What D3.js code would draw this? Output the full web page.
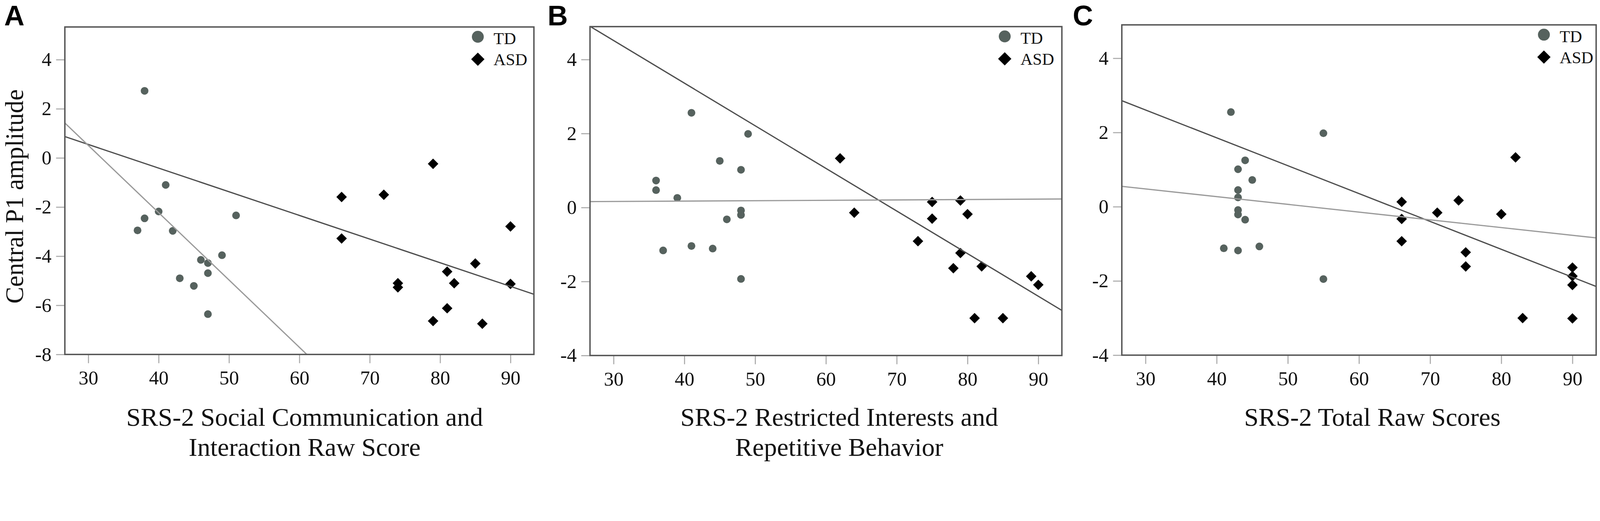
<!DOCTYPE html>
<html>
<head>
<meta charset="utf-8">
<script src="https://cdn.jsdelivr.net/npm/d3@7"></script>
<style>
  html, body { margin: 0; padding: 0; background: #fff; overflow: hidden; }
  svg { display: block; width: 100vw; height: 100vh; }
</style>
</head>
<body>
<div id="chart"></div>
<script>
// tick labels
const xTicks = [30, 40, 50, 60, 70, 80, 90];
const yTicksA = [-8, -6, -4, -2, 0, 2, 4];
const yTicksBC = [-4, -2, 0, 2, 4];

// panel A: SRS-2 social communication and interaction
const tdScoreA = [38, 41, 40, 38, 37, 42, 51, 49, 46, 47, 47, 43, 45, 47];
const tdAmpA = [2.73, -1.10, -2.18, -2.46, -2.95, -2.97, -2.34, -3.96, -4.15, -4.28, -4.69, -4.90, -5.21, -6.36];
const asdScoreA = [79, 66, 72, 66, 90, 74, 74, 85, 81, 82, 90, 81, 79, 86];
const asdAmpA = [-0.24, -1.59, -1.50, -3.28, -2.79, -5.10, -5.27, -4.30, -4.63, -5.10, -5.13, -6.12, -6.64, -6.75];

// panel B: SRS-2 restricted interests and repetitive behavior
const tdScoreB = [41, 49, 45, 48, 36, 36, 39, 48, 48, 46, 37, 41, 44, 48];
const tdAmpB = [2.56, 1.99, 1.26, 1.02, 0.73, 0.47, 0.26, -0.08, -0.20, -0.32, -1.16, -1.04, -1.11, -1.93];
const asdScoreB = [62, 64, 75, 79, 75, 80, 73, 79, 78, 82, 89, 90, 81, 85];
const asdAmpB = [1.33, -0.14, 0.15, 0.19, -0.30, -0.18, -0.91, -1.23, -1.64, -1.59, -1.86, -2.09, -2.99, -2.99];

// panel C: SRS-2 total raw scores
const tdScoreC = [42, 55, 44, 43, 45, 43, 43, 43, 43, 44, 41, 43, 46, 55];
const tdAmpC = [2.55, 1.98, 1.25, 1.01, 0.72, 0.45, 0.25, -0.09, -0.21, -0.35, -1.12, -1.18, -1.07, -1.95];
const asdScoreC = [82, 66, 74, 71, 80, 66, 66, 75, 75, 90, 90, 90, 83, 90];
const asdAmpC = [1.33, 0.13, 0.17, -0.16, -0.20, -0.33, -0.93, -1.23, -1.61, -1.64, -1.87, -2.11, -3.00, -3.01];

// fit lines: [dark, light] as slope / intercept
const fitSlopeA = [-0.0963, -0.274];
const fitInterceptA = [3.437, 8.73];
const fitSlopeB = [-0.1152, 0.00105];
const fitInterceptB = [7.97, 0.132];
const fitSlopeC = [-0.0751, -0.02084];
const fitInterceptC = [4.86, 1.105];

const groups = ["TD", "ASD"];

// layout
const width = 4564, height = 1335;
const serif = "'Liberation Serif', 'Times New Roman', serif";
const tdColor = "#56625e";

const panels = [
  { letter: "A", letterX: 12, box: [185, 1523, 77, 1012], yDomain: [-8, 5.33], yTicks: yTicksA,
    td: [tdScoreA, tdAmpA], asd: [asdScoreA, asdAmpA], fit: [fitSlopeA, fitInterceptA],
    title: ["SRS-2 Social Communication and", "Interaction Raw Score"], titleShift: 15, legendDx: [160, 115] },
  { letter: "B", letterX: 1562, box: [1683, 3029, 76, 1015], yDomain: [-4, 4.89], yTicks: yTicksBC,
    td: [tdScoreB, tdAmpB], asd: [asdScoreB, asdAmpB], fit: [fitSlopeB, fitInterceptB],
    title: ["SRS-2 Restricted Interests and", "Repetitive Behavior"], titleShift: 38, legendDx: [163, 118] },
  { letter: "C", letterX: 3060, box: [3200, 4553, 71, 1014], yDomain: [-4, 4.9], yTicks: yTicksBC,
    td: [tdScoreC, tdAmpC], asd: [asdScoreC, asdAmpC], fit: [fitSlopeC, fitInterceptC],
    title: ["SRS-2 Total Raw Scores"], titleShift: 38, legendDx: [149, 104] }
];

const svg = d3.select("#chart").append("svg")
  .attr("viewBox", `0 0 ${width} ${height}`)
  .attr("preserveAspectRatio", "xMidYMin meet");

panels.forEach((p, i) => {
  const [left, right, top, bottom] = p.box;
  const x = d3.scaleLinear().domain([26.67, 93.33]).range([left, right]);
  const y = d3.scaleLinear().domain(p.yDomain).range([bottom, top]);
  const g = svg.append("g");

  // panel letter
  g.append("text")
    .attr("x", p.letterX).attr("y", 72)
    .style("font-family", "'Liberation Sans', Arial, sans-serif")
    .style("font-weight", 700).style("font-size", "80px")
    .text(p.letter);

  // axes
  const xAxis = g.append("g").attr("transform", `translate(0,${bottom})`)
    .call(d3.axisBottom(x).tickValues(xTicks).tickSize(25).tickPadding(21));
  const yAxis = g.append("g").attr("transform", `translate(${left},0)`)
    .call(d3.axisLeft(y).tickValues(p.yTicks).tickSize(25).tickPadding(13));
  [xAxis, yAxis].forEach(a => {
    a.attr("font-family", serif).attr("font-size", 56);
    a.select(".domain").remove();
    a.selectAll("line").attr("stroke", "#aaa").attr("stroke-width", 3);
    a.selectAll("text").style("font-family", serif).style("font-size", "56px").attr("fill", "#111");
  });
  yAxis.selectAll("text").text(d => d < 0 ? "-" + Math.abs(d) : d);

  // clip for fit lines
  g.append("clipPath").attr("id", "clip" + i)
    .append("rect").attr("x", left).attr("y", top).attr("width", right - left).attr("height", bottom - top);

  // points
  g.selectAll("circle.td")
    .data(d3.zip(p.td[0], p.td[1]))
    .join("circle")
    .attr("class", "td")
    .attr("cx", d => x(d[0])).attr("cy", d => y(d[1]))
    .attr("r", 11)
    .attr("fill", tdColor);

  g.selectAll("path.asd")
    .data(d3.zip(p.asd[0], p.asd[1]))
    .join("path")
    .attr("class", "asd")
    .attr("transform", d => `translate(${x(d[0])},${y(d[1])}) rotate(45)`)
    .attr("d", d3.symbol().type(d3.symbolSquare).size(450))
    .attr("fill", "#000");

  // fit lines
  const xs = x.domain();
  const lineColors = ["#4d4d4d", "#9a9a9a"];
  p.fit[0].forEach((slope, k) => {
    const b = p.fit[1][k];
    g.append("line")
      .attr("clip-path", `url(#clip${i})`)
      .attr("x1", x(xs[0])).attr("y1", y(slope * xs[0] + b))
      .attr("x2", x(xs[1])).attr("y2", y(slope * xs[1] + b))
      .attr("stroke", lineColors[k]).attr("stroke-width", 3.5);
  });

  // frame
  g.append("rect")
    .attr("x", left).attr("y", top)
    .attr("width", right - left).attr("height", bottom - top)
    .attr("fill", "none").attr("stroke", "#555").attr("stroke-width", 4);

  // legend
  const lg = g.append("g");
  lg.append("circle")
    .attr("cx", right - p.legendDx[0]).attr("cy", top + 28).attr("r", 17)
    .attr("fill", tdColor);
  lg.append("path")
    .attr("transform", `translate(${right - p.legendDx[0]},${top + 92}) rotate(45)`)
    .attr("d", d3.symbol().type(d3.symbolSquare).size(720))
    .attr("fill", "#000");
  lg.selectAll("text")
    .data(groups)
    .join("text")
    .attr("x", right - p.legendDx[1])
    .attr("y", (d, j) => top + 49 + j * 60)
    .style("font-family", serif).style("font-size", "48px").attr("fill", "#111")
    .text(d => d);

  // x title
  g.selectAll("text.xtitle")
    .data(p.title)
    .join("text")
    .attr("class", "xtitle")
    .attr("x", (left + right) / 2 + p.titleShift)
    .attr("y", (d, j) => 1216 + j * 85)
    .attr("text-anchor", "middle")
    .style("font-family", serif).style("font-size", "74px").attr("fill", "#111")
    .text(d => d);
});

// y title (panel A only)
svg.append("text")
  .attr("transform", "translate(66,561) rotate(-90)")
  .attr("text-anchor", "middle")
  .style("font-family", serif).style("font-size", "72px").attr("fill", "#111")
  .text("Central P1 amplitude");
</script>
</body>
</html>
